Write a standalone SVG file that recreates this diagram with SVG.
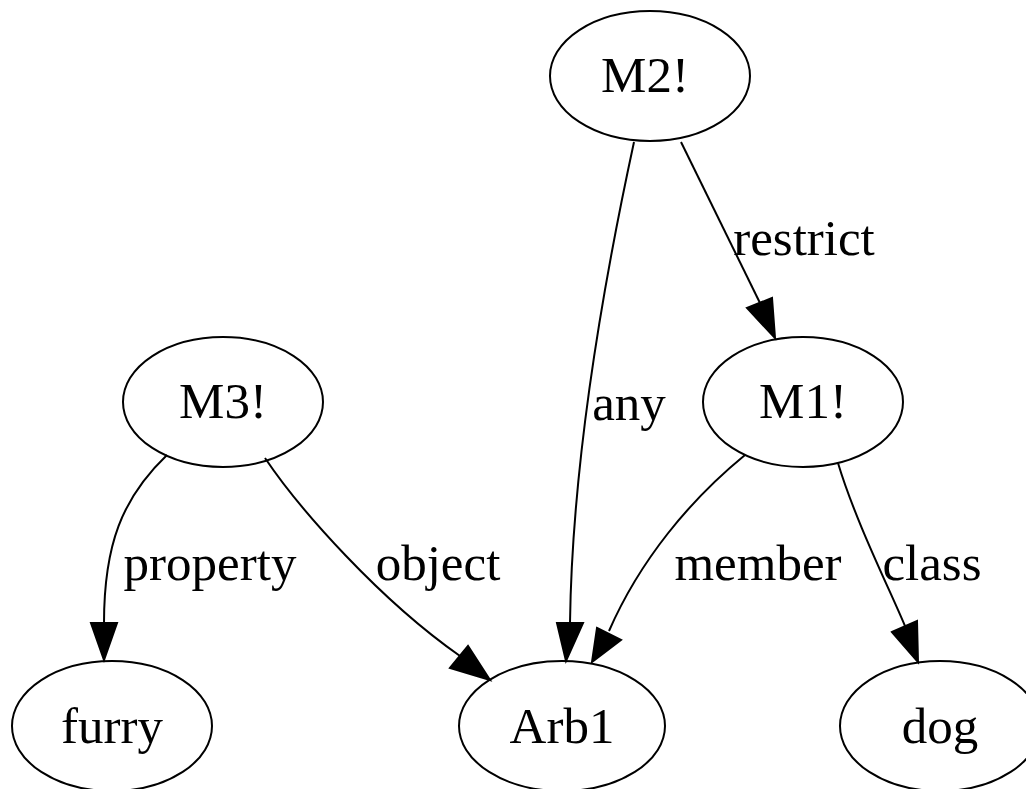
<svg xmlns="http://www.w3.org/2000/svg" width="1026" height="789" viewBox="0 0 1026 789">
  <style>
    .node ellipse { fill: none; stroke: #000; stroke-width: 2; }
    text { font-family: "Liberation Serif", "Times New Roman", serif; font-size: 51px; fill: #000; text-anchor: middle; }
    .edge path { fill: none; stroke: #000; stroke-width: 2; }
    .edge polygon { fill: #000; stroke: #000; stroke-width: 2; }
  </style>
  <rect width="1026" height="789" fill="#fff"/>

  <g id="connectors">
    <!-- M2! -> Arb1 (any) -->
    <g class="edge" id="e-any">
      <path d="M634,142 C602,290 572,470 570,623"/>
      <polygon points="557,623 583,623 566,661"/>
      <text x="629" y="420">any</text>
    </g>
    <!-- M2! -> M1! (restrict) -->
    <g class="edge" id="e-restrict">
      <path d="M681,142 L760,303"/>
      <polygon points="747,308 772,298 775,338"/>
      <text x="804" y="255">restrict</text>
    </g>
    <!-- M3! -> furry (property) -->
    <g class="edge" id="e-property">
      <path d="M167,455 C122,498 104,545 104,623"/>
      <polygon points="91,623 117,623 104,660"/>
      <text x="210" y="580">property</text>
    </g>
    <!-- M3! -> Arb1 (object) -->
    <g class="edge" id="e-object">
      <path d="M265,458 C300,510 380,600 460,656"/>
      <polygon points="450,668 468,646 490,680"/>
      <text x="438" y="580">object</text>
    </g>
    <!-- M1! -> Arb1 (member) -->
    <g class="edge" id="e-member">
      <path d="M745,455 C690,500 640,560 609,631"/>
      <polygon points="597,628 621,640 592,662"/>
      <text x="758" y="580">member</text>
    </g>
    <!-- M1! -> dog (class) -->
    <g class="edge" id="e-class">
      <path d="M838,463 C855,520 890,590 905,626"/>
      <polygon points="892,632 917,621 918,662"/>
      <text x="932" y="580">class</text>
    </g>
  </g>

  <g class="node" id="M2">
    <ellipse cx="650" cy="76" rx="100" ry="65"/>
    <text x="645" y="92">M2!</text>
  </g>
  <g class="node" id="M1">
    <ellipse cx="803" cy="402" rx="100" ry="65"/>
    <text x="803" y="418">M1!</text>
  </g>
  <g class="node" id="M3">
    <ellipse cx="223" cy="402" rx="100" ry="65"/>
    <text x="223" y="418">M3!</text>
  </g>
  <g class="node" id="furry">
    <ellipse cx="112" cy="726" rx="100" ry="65"/>
    <text x="112" y="743">furry</text>
  </g>
  <g class="node" id="Arb1">
    <ellipse cx="562" cy="726" rx="103" ry="65"/>
    <text x="562" y="743">Arb1</text>
  </g>
  <g class="node" id="dog">
    <ellipse cx="940" cy="726" rx="100" ry="65"/>
    <text x="940" y="743">dog</text>
  </g>
</svg>
